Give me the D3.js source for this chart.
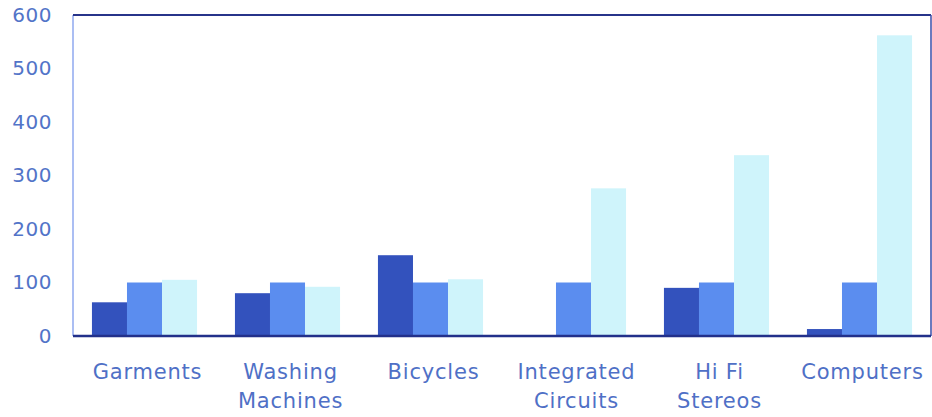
<!DOCTYPE html>
<html>
<head>
<meta charset="utf-8">
<script src="https://cdn.jsdelivr.net/npm/d3@7"></script>
<style>
  html, body { margin: 0; padding: 0; background: #fff; }
  svg { display: block; }
  text { font-family: "DejaVu Sans", Verdana, sans-serif; }
</style>
</head>
<body>
<svg id="chart" width="932" height="417"></svg>
<script>
// Categories and the three series of index values
const categories = [["Garments"], ["Washing", "Machines"], ["Bicycles"], ["Integrated", "Circuits"], ["Hi Fi", "Stereos"], ["Computers"]];
const seriesA = [63, 80, 151, 0, 90, 13];
const seriesB = [100, 100, 100, 100, 100, 100];
const seriesC = [105, 92, 106, 276, 338, 562];
const yTicks = [0, 100, 200, 300, 400, 500, 600];
const seriesColors = ["#3352bd", "#5b8def", "#cff4fb"];

const margin = { top: 15, right: 1, bottom: 81, left: 73 };
const width = 932, height = 417;
const svg = d3.select("#chart");

const keys = categories.map(c => c.join(" "));
const x = d3.scaleBand().domain(keys).range([margin.left, width - margin.right]).paddingInner(0.265).paddingOuter(0.1325);
const xs = d3.scaleBand().domain([0, 1, 2]).range([0, x.bandwidth()]);
const y = d3.scaleLinear().domain([0, 600]).range([height - margin.bottom, margin.top]);

const series = [seriesA, seriesB, seriesC];
const rows = keys.map((k, i) => ({ key: k, values: series.map(s => s[i]) }));

// bars
const g = svg.append("g");
g.selectAll("g.cat").data(rows).join("g")
  .attr("class", "cat")
  .attr("transform", d => `translate(${x(d.key)},0)`)
  .selectAll("rect").data(d => d.values.map((v, j) => ({ v, j })))
  .join("rect")
  .attr("x", d => xs(d.j))
  .attr("width", xs.bandwidth())
  .attr("y", d => y(d.v))
  .attr("height", d => y(0) - y(d.v))
  .attr("fill", d => seriesColors[d.j]);

// frame
const x0 = margin.left, x1 = width - margin.right;
svg.append("line").attr("x1", x0).attr("x2", x0).attr("y1", y(600)).attr("y2", y(0))
  .attr("stroke", "#8fa9ef").attr("stroke-width", 1.5);
svg.append("line").attr("x1", x0).attr("x2", x1).attr("y1", y(600)).attr("y2", y(600))
  .attr("stroke", "#27348a").attr("stroke-width", 2);
svg.append("line").attr("x1", x1).attr("x2", x1).attr("y1", y(600)).attr("y2", y(0))
  .attr("stroke", "#3a4ea8").attr("stroke-width", 1.5);

// y axis labels
const yAxis = d3.axisLeft(y).tickValues(yTicks).tickSize(0).tickPadding(21);
const ya = svg.append("g").attr("transform", `translate(${x0},0)`).call(yAxis);
ya.select(".domain").remove();
ya.selectAll("text").attr("fill", "#5274c8").style("font-size", "20px")
  .style("letter-spacing", "0.5px").style("font-family", "DejaVu Sans, sans-serif");

// x axis baseline
svg.append("line").attr("x1", x0).attr("x2", x1).attr("y1", y(0)).attr("y2", y(0))
  .attr("stroke", "#22308a").attr("stroke-width", 2.5);

// category labels
const xa = svg.append("g");
xa.selectAll("text").data(categories).join("text")
  .attr("x", d => x(d.join(" ")) + x.bandwidth() / 2 + 3)
  .attr("y", 379)
  .attr("text-anchor", "middle")
  .attr("fill", "#4f70c6")
  .style("font-size", "21px")
  .style("letter-spacing", "0.8px")
  .selectAll("tspan").data(d => d).join("tspan")
  .attr("x", function () { return d3.select(this.parentNode).attr("x"); })
  .attr("dy", (d, i) => i === 0 ? 0 : 29)
  .text(d => d);
</script>
</body>
</html>
